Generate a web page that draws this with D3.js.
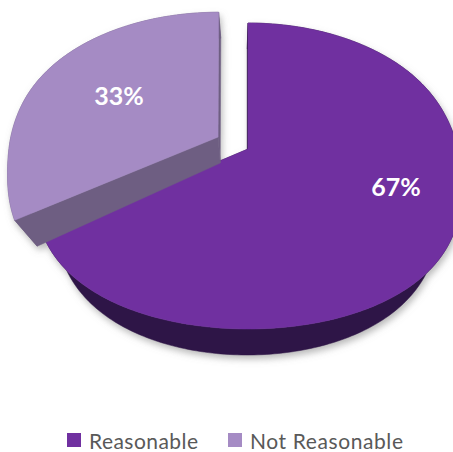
<!DOCTYPE html>
<html>
<head>
<meta charset="utf-8">
<script src="https://cdn.jsdelivr.net/npm/d3@7"></script>
<style>
  html, body { margin: 0; padding: 0; background: #fff; }
  svg { display: block; }
</style>
</head>
<body>
<div id="chart"></div>
<script>
// ---- data ----
const categories = ["Reasonable", "Not Reasonable"];
const values = [67, 33];
const labelTexts = ["67%", "33%"];
const topColors = ["#7030A0", "#A58BC4"];
const sideColors = ["#2E1547", "#6E5E82"];
const explode = [0, 0.168];

// ---- layout / pseudo-3D projection ----
const W = 453, H = 452;
const CX = 248, CY = 149;          // projected pie centre
const RX = 203;                    // horizontal radius (px) on the far half
const BETA = 0.31;                 // widening of the near half
const A = 153, B = 27, WS = 0.15;  // depth -> screen y
const TH = 26;                     // thickness (px)
const NADIR_X = 240, CONV = 0.10;  // convergence of vertical edges

const softPos = z => WS * Math.log(1 + Math.exp(z / WS));
function g(Z) { return A * Z + B * Z * Math.tanh(Z / WS); }
// X, Z in radii on the pie plane (Z toward viewer); Y in thickness units (0 top, -1 bottom)
function P(X, Y, Z) {
  const xt = CX + RX * X * (1 + BETA * softPos(Z));
  const k = 1 - CONV * (-Y);
  return [NADIR_X + (xt - NADIR_X) * k, CY + g(Z) - Y * TH];
}

const svg = d3.select("#chart").append("svg")
  .attr("width", W).attr("height", H)
  .attr("viewBox", `0 0 ${W} ${H}`);

const defs = svg.append("defs");
const f = defs.append("filter").attr("id", "shadow")
  .attr("x", "-20%").attr("y", "-20%").attr("width", "140%").attr("height", "140%");
f.append("feGaussianBlur").attr("in", "SourceAlpha").attr("stdDeviation", 3.5).attr("result", "b");
f.append("feOffset").attr("in", "b").attr("dx", 2).attr("dy", 4).attr("result", "o");
f.append("feFlood").attr("flood-color", "#7f7f7f").attr("flood-opacity", 0.55).attr("result", "c");
f.append("feComposite").attr("in", "c").attr("in2", "o").attr("operator", "in");

const pie = d3.pie().sort(null).value(d => d);
const arcs = pie(values);
const line = d3.line();

function sliceGeom(a, i) {
  const mid = (a.startAngle + a.endAngle) / 2;
  const ox = explode[i] * Math.sin(mid);
  const oz = -explode[i] * Math.cos(mid);
  const pt = (t, r, Y) => P(ox + r * Math.sin(t), Y, oz - r * Math.cos(t));
  const n = Math.max(8, Math.ceil((a.endAngle - a.startAngle) / (Math.PI / 180)));
  const ts = d3.range(n + 1).map(j => a.startAngle + (a.endAngle - a.startAngle) * j / n);
  const topArc = ts.map(t => pt(t, 1, 0));
  const botArc = ts.map(t => pt(t, 1, -1));
  return {
    top: [pt(0, 0, 0), ...topArc],
    outer: [...topArc, ...botArc.slice().reverse()],
    radial: [a.startAngle, a.endAngle].map(t => [pt(t, 0, 0), pt(t, 1, 0), pt(t, 1, -1), pt(t, 0, -1)]),
    pt, mid
  };
}

// draw order as in the original rendering: big slice, then the exploded slice
const order = [0, 1];
const geos = arcs.map((a, i) => sliceGeom(a, i));

// soft shadow layer under all slices
const shadowLayer = svg.append("g").attr("filter", "url(#shadow)");
order.forEach(i => {
  const geo = geos[i];
  [geo.outer, ...geo.radial, geo.top].forEach(poly =>
    shadowLayer.append("path").attr("d", line(poly) + "Z").attr("fill", "#000"));
});

const g0 = svg.append("g");
order.forEach(i => {
  const geo = geos[i];
  const sg = g0.append("g");
  sg.append("path").attr("d", line(geo.outer) + "Z").attr("fill", sideColors[i])
    .attr("stroke", sideColors[i]).attr("stroke-width", 0.5);
  geo.radial.forEach(r => {
    sg.append("path").attr("d", line(r) + "Z").attr("fill", sideColors[i])
      .attr("stroke", sideColors[i]).attr("stroke-width", 0.5);
  });
  sg.append("path").attr("d", line(geo.top) + "Z").attr("fill", topColors[i])
    .attr("stroke", topColors[i]).attr("stroke-width", 0.5);
});

// data labels
const labelPlace = [{dt: -13.0, r: 0.71}, {dt: 3.8, r: 0.593}];
arcs.forEach((a, i) => {
  const geo = geos[i];
  const t = geo.mid + labelPlace[i].dt * Math.PI / 180;
  const [x, y] = geo.pt(t, labelPlace[i].r, 0);
  svg.append("text")
    .attr("x", x).attr("y", y).attr("dy", "0.36em")
    .attr("text-anchor", "middle")
    .attr("font-family", "Lato, 'Open Sans', sans-serif")
    .attr("font-weight", "bold")
    .attr("font-size", 25)
    .attr("fill", "#ffffff")
    .text(labelTexts[i]);
});

// legend
const legend = svg.append("g").attr("transform", "translate(67,433)");
const legX = d3.scalePoint().domain(categories).range([0, 161]);
categories.forEach((c, i) => {
  const lg = legend.append("g").attr("transform", `translate(${legX(c)},0)`);
  lg.append("rect").attr("width", 14).attr("height", 14).attr("fill", topColors[i]);
  lg.append("text").attr("x", 22).attr("y", 15.5)
    .attr("font-family", "Lato, 'Open Sans', sans-serif")
    .attr("font-size", 21)
    .attr("fill", "#595959")
    .attr("textLength", [109, 153][i]).attr("lengthAdjust", "spacing")
    .text(c);
});
</script>
</body>
</html>
